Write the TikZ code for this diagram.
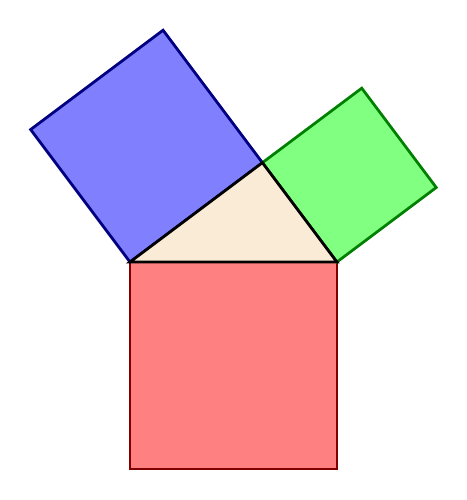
\documentclass[tikz,border=0pt]{standalone}
\usepackage{tikz}
\usetikzlibrary{calc}
\definecolor{triback}{HTML}{FAEBD7}

\begin{document}
\begin{tikzpicture}[
    sq/.style={line join=miter, line width=1.9pt},
    tri/.style={draw=black, fill=triback, line width=1.9pt, line join=miter},
  ]
  \useasboundingbox (-3.14,-5.75) rectangle (8.14,6.33);
  % Triangle corners (3-4-5)
  \coordinate (A) at (0,0);
  \coordinate (B) at (5,0);
  \coordinate (C) at (3.2,2.4);

  % Squares on the sides
  \coordinate (A1) at ($(A)!1!-90:(B)$);
  \coordinate (B1) at ($(B)!1!90:(A)$);
  \draw[sq, draw=red!50!black, fill=red!50] (A) -- (B) -- (B1) -- (A1) -- cycle;

  \coordinate (A2) at ($(A)!1!90:(C)$);
  \coordinate (C2) at ($(C)!1!-90:(A)$);
  \draw[sq, draw=blue!50!black, fill=blue!50] (A) -- (C) -- (C2) -- (A2) -- cycle;

  \coordinate (C3) at ($(C)!1!90:(B)$);
  \coordinate (B3) at ($(B)!1!-90:(C)$);
  \draw[sq, draw=green!50!black, fill=green!50] (C) -- (B) -- (B3) -- (C3) -- cycle;

  % Triangle on top
  \draw[tri] (A) -- (B) -- (C) -- cycle;
\end{tikzpicture}
\end{document}
